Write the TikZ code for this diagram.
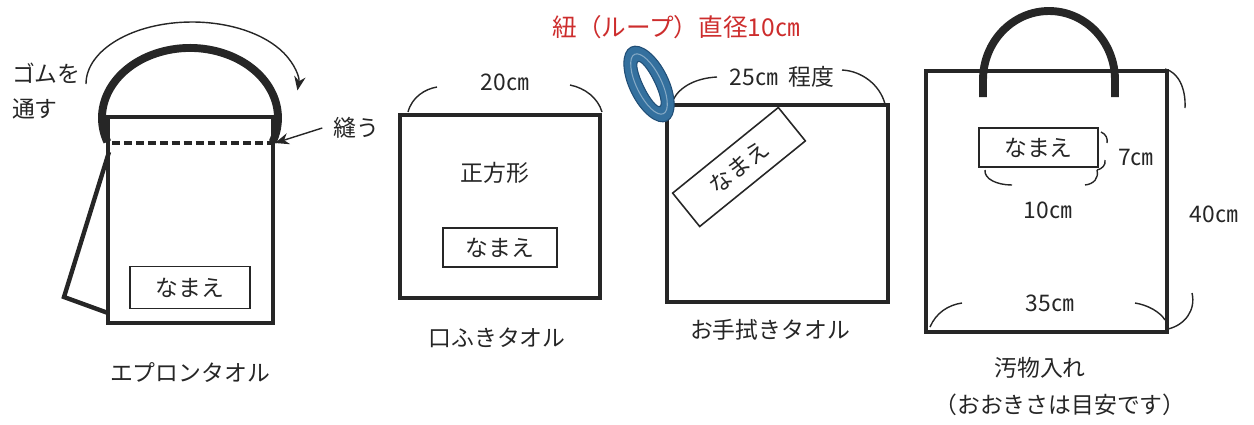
\documentclass[tikz,border=0pt]{standalone}
\usepackage{fontspec}
\setmainfont{Noto Sans CJK JP}
\usetikzlibrary{arrows.meta}
\definecolor{ink}{RGB}{38,38,38}
\definecolor{loopred}{RGB}{205,45,45}
\definecolor{ringblue}{RGB}{52,112,158}
\definecolor{ringedge}{RGB}{33,78,118}
\tikzset{
  lbl_n/.style = {inner sep=1pt, text=ink, font=\fontsize{13pt}{20pt}\selectfont},
  name_n/.style = {lbl_n, draw=ink, line width=0.9pt,
    minimum width=2.4cm, minimum height=0.84cm},% name tag
  frame_n/.style = {draw=ink, line width=2.5pt},% towel / bag outline
  cord_n/.style = {draw=ink, line width=4.5pt},% elastic, handle
  dim_n/.style = {draw=ink, line width=0.8pt},% size bracket
  arr_n/.style = {draw=ink, line width=0.8pt,
    -{Stealth[length=8pt,width=6.5pt]}},
}

\begin{document}
\begin{tikzpicture}[x=0.02cm,y=-0.02cm]
\useasboundingbox (0,0) rectangle (1254,424);

% apron towel
\draw[cord_n] (107.3,141.9) arc[start angle=160,end angle=380,x radius=88,y radius=70];
\draw[frame_n] (108,117) rectangle (273,323);
\draw[frame_n] (109,152) -- (64,297) -- (108,313);% flap
\draw[ink, line width=2.2pt, dash pattern=on 4.5pt off 2.3pt] (112,143) -- (273,143);
\node[lbl_n, align=left, anchor=west] (gomu) at (10,90.7) {ゴムを\\通す};
\coordinate (gomu_tail) at (86,84);
\draw[arr_n] (gomu_tail) arc[start angle=180,end angle=366,x radius=106,y radius=62];
\node[lbl_n] (nuu) at (356,128) {縫う};
\coordinate (seam_r) at (275,143);
\draw[arr_n] ([xshift=-5pt]nuu.west) -- (seam_r);
\node[name_n] (apron_name) at (190,287.5) {なまえ};
\node[lbl_n] (apron) at (190,372) {エプロンタオル};

% mouth towel
\draw[frame_n] (400,115) rectangle (600,298);
\node[lbl_n] (w20) at (505,82) {20㎝};
\draw[dim_n] (408,112) .. controls (412,97) and (425,89) .. (437,87);
\draw[dim_n] (570,85) .. controls (585,88) and (598,98) .. (602,112);
\node[lbl_n] (square) at (495,173) {正方形};
\node[name_n, minimum width=2.28cm, minimum height=0.78cm] (mouth_name) at (500,247.5) {なまえ};
\node[lbl_n] (mouth) at (497,338) {口ふきタオル};

% hand towel
\draw[frame_n] (667,105) rectangle (888,302);
\node[name_n, minimum width=2.72cm, minimum height=0.86cm, rotate=39] (hand_name) at (739,167) {なまえ};
\node[lbl_n] (w25) at (782,77) {25㎝\hspace{0.45em}程度};
\draw[dim_n] (673,100) .. controls (680,86) and (697,78) .. (717,77);
\draw[dim_n] (842,70) .. controls (862,71) and (880,85) .. (885,104);
% loop ring
\fill[ringblue, even odd rule, rotate around={-64:(649,84)}]
  (649,84) ellipse[x radius=41,y radius=19.5] (649,84) ellipse[x radius=25,y radius=6];
\draw[ringedge, line width=0.6pt, rotate around={-64:(649,84)}]
  (649,84) ellipse[x radius=41,y radius=19.5] (649,84) ellipse[x radius=25,y radius=6];
\draw[ringblue!60!white, line width=0.6pt, rotate around={-64:(649,84)}]
  (649,84) ellipse[x radius=33,y radius=12.5];
\node[lbl_n, text=loopred, font=\fontsize{14pt}{16pt}\selectfont] (loop) at (676,27) {紐（ループ）直径10㎝};
\node[lbl_n] (hand) at (770,330) {お手拭きタオル};

% bag
\draw[cord_n] (983,97) -- (983,80) arc[start angle=180,end angle=360,x radius=66,y radius=69] -- (1115,97);
\draw[frame_n] (926,71) rectangle (1167,332);
\node[name_n, minimum width=2.38cm, minimum height=0.78cm] (bag_name) at (1038.5,147.5) {なまえ};
\draw[dim_n] (1101,132) .. controls (1106,134) and (1108,139) .. (1107,143);
\draw[dim_n] (1105,160) .. controls (1106,165) and (1102,169) .. (1097,170);
\node[lbl_n] (h7) at (1136,157) {7㎝};
\draw[dim_n] (985,170) .. controls (984,179) and (997,185) .. (1012,185);
\draw[dim_n] (1085,185) .. controls (1094,184) and (1099,178) .. (1097,170);
\node[lbl_n] (w10) at (1048,210) {10㎝};
\draw[dim_n] (1165,69) .. controls (1178,72) and (1186,88) .. (1185,108);
\draw[dim_n] (1192,293) .. controls (1196,310) and (1185,325) .. (1168,329);
\node[lbl_n] (h40) at (1214,214) {40㎝};
\draw[dim_n] (930,327) .. controls (936,313) and (948,305) .. (962,303);
\draw[dim_n] (1135,303) .. controls (1148,305) and (1160,312) .. (1165,320);
\node[lbl_n] (w35) at (1050,303) {35㎝};
\node[lbl_n] (bag) at (1040,368) {汚物入れ};
\node[lbl_n] (note) at (1060,405) {（おおきさは目安です）};
\end{tikzpicture}
\end{document}
